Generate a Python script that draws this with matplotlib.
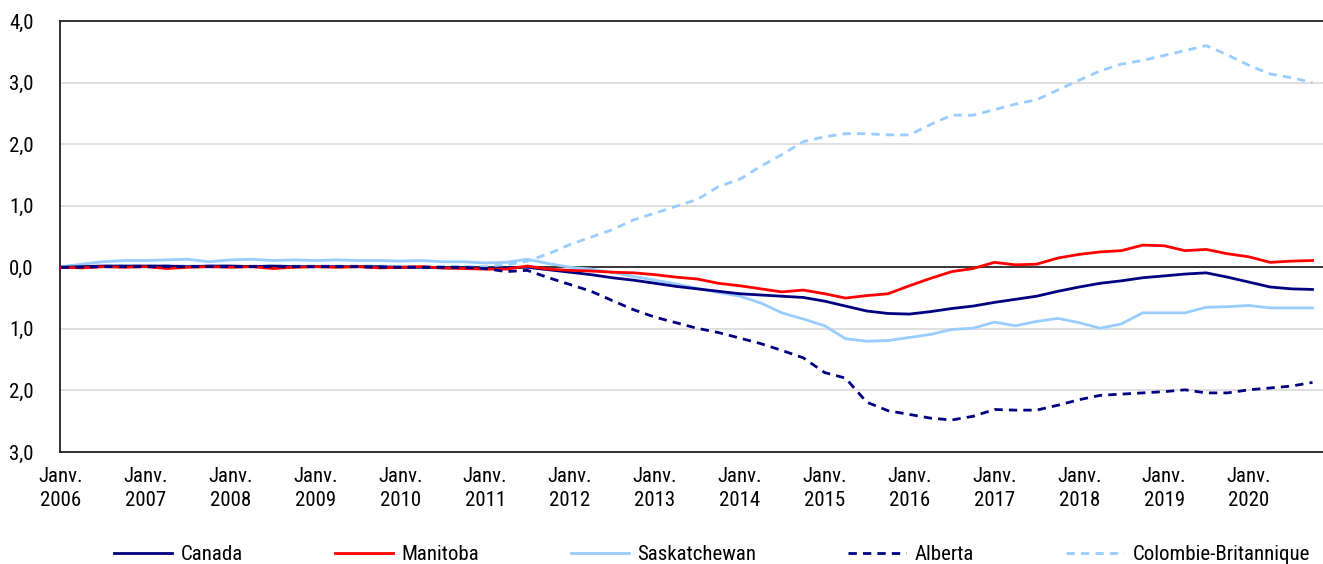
import numpy as np
import pandas as pd
import matplotlib
matplotlib.use("Agg")
import matplotlib.pyplot as plt
from matplotlib import font_manager as fm

# the reference uses a narrow sans; take one if the machine has it
names = {f.name for f in fm.fontManager.ttflist}
narrow = [n for n in ["Liberation Sans Narrow", "Roboto Condensed",
                      "Open Sans Condensed", "Arial Narrow"] if n in names]
if narrow:
    plt.rcParams['font.family'] = [narrow[0], 'DejaVu Sans']
    fsize = 15
else:
    plt.rcParams['font.family'] = ['Liberation Sans', 'DejaVu Sans']
    fsize = 13

# quarterly readings, Jan 2006 .. Oct 2020 (one row = one year)
dates = pd.date_range("2006-01-01", periods=60, freq="3MS")

canada = [
    0.00, 0.01, 0.02, 0.02,
    0.02, 0.02, 0.01, 0.02,
    0.02, 0.01, 0.02, 0.01,
    0.01, 0.01, 0.01, 0.01,
    0.00, 0.00, -0.01, -0.01,
    -0.02, -0.01, 0.00, -0.04,
    -0.08, -0.12, -0.17, -0.21,
    -0.26, -0.31, -0.35, -0.39,
    -0.43, -0.45, -0.47, -0.49,
    -0.55, -0.63, -0.71, -0.75,
    -0.76, -0.72, -0.67, -0.63,
    -0.57, -0.52, -0.47, -0.39,
    -0.32, -0.26, -0.22, -0.17,
    -0.14, -0.11, -0.09, -0.16,
    -0.24, -0.32, -0.35, -0.36,
]
manitoba = [
    0.00, -0.01, 0.01, 0.00,
    0.01, -0.02, 0.00, 0.01,
    0.00, 0.01, -0.02, 0.00,
    0.01, 0.00, 0.01, -0.01,
    0.00, 0.01, -0.01, -0.02,
    -0.03, -0.03, 0.02, -0.03,
    -0.05, -0.06, -0.08, -0.09,
    -0.12, -0.16, -0.19, -0.26,
    -0.30, -0.35, -0.40, -0.37,
    -0.43, -0.50, -0.46, -0.43,
    -0.30, -0.18, -0.07, -0.02,
    0.08, 0.04, 0.05, 0.15,
    0.21, 0.25, 0.27, 0.36,
    0.35, 0.27, 0.29, 0.22,
    0.17, 0.08, 0.10, 0.11,
]
saskatchewan = [
    0.01, 0.05, 0.09, 0.11,
    0.11, 0.12, 0.13, 0.09,
    0.12, 0.13, 0.11, 0.12,
    0.11, 0.12, 0.11, 0.11,
    0.10, 0.11, 0.09, 0.09,
    0.07, 0.08, 0.13, 0.06,
    0.00, -0.03, -0.08, -0.15,
    -0.21, -0.27, -0.34, -0.41,
    -0.47, -0.58, -0.74, -0.84,
    -0.95, -1.16, -1.20, -1.19,
    -1.14, -1.09, -1.01, -0.99,
    -0.89, -0.95, -0.88, -0.83,
    -0.90, -0.99, -0.92, -0.74,
    -0.74, -0.74, -0.65, -0.64,
    -0.62, -0.66, -0.66, -0.66,
]
alberta = [
    0.00, 0.00, 0.01, 0.01,
    0.01, 0.01, 0.01, 0.01,
    0.01, 0.01, 0.01, 0.01,
    0.01, 0.01, 0.01, 0.00,
    0.00, 0.00, 0.00, 0.00,
    -0.02, -0.07, -0.05, -0.17,
    -0.28, -0.39, -0.54, -0.69,
    -0.81, -0.90, -0.99, -1.06,
    -1.15, -1.24, -1.35, -1.47,
    -1.71, -1.80, -2.19, -2.33,
    -2.39, -2.45, -2.48, -2.42,
    -2.31, -2.32, -2.32, -2.24,
    -2.15, -2.08, -2.06, -2.04,
    -2.02, -1.99, -2.04, -2.04,
    -1.99, -1.96, -1.93, -1.87,
]
colombie_brit = [
    0.00, 0.01, 0.02, 0.02,
    0.02, 0.02, 0.02, 0.02,
    0.02, 0.02, 0.02, 0.02,
    0.02, 0.02, 0.02, 0.02,
    0.01, 0.01, 0.01, 0.01,
    0.01, 0.04, 0.10, 0.22,
    0.37, 0.49, 0.61, 0.77,
    0.88, 0.99, 1.10, 1.31,
    1.43, 1.64, 1.83, 2.04,
    2.12, 2.17, 2.17, 2.15,
    2.15, 2.32, 2.47, 2.47,
    2.56, 2.65, 2.72, 2.88,
    3.04, 3.19, 3.30, 3.36,
    3.44, 3.52, 3.60, 3.45,
    3.28, 3.14, 3.08, 3.00,
]

years = list(range(2006, 2021))
ytick_vals = [4, 3, 2, 1, 0, -1, -2, -3]
ytick_labels = ["4,0", "3,0", "2,0", "1,0", "0,0", "1,0", "2,0", "3,0"]

navy = "#000080"
red = "#FF0000"
light = "#99CCFF"

fig = plt.figure(figsize=(13.23, 5.64), dpi=100)
ax = fig.add_axes([60 / 1323, 1 - 452 / 564, 1 - 60 / 1323, (452 - 21) / 564])

for v in [1, 2, 3, -1, -2]:
    ax.axhline(v, color="#D9D9D9", lw=1.2, zorder=0)
ax.axhline(0, color="black", lw=1.1, zorder=1)

lw = 2.0
dash = (3, 2.2)
ax.plot(dates, canada, color=navy, lw=lw, label="Canada", zorder=3)
ax.plot(dates, manitoba, color=red, lw=lw, label="Manitoba", zorder=3)
ax.plot(dates, saskatchewan, color=light, lw=lw, label="Saskatchewan", zorder=2)
ax.plot(dates, alberta, color=navy, lw=lw, dashes=dash, label="Alberta", zorder=3)
ax.plot(dates, colombie_brit, color=light, lw=lw, dashes=dash,
        label="Colombie-Britannique", zorder=2)

ax.set_xlim(pd.Timestamp("2005-12-28"), pd.Timestamp("2020-11-15"))
ax.set_ylim(-3, 4)
ax.set_yticks(ytick_vals)
ax.set_yticklabels(ytick_labels)
ax.set_xticks([pd.Timestamp(f"{y}-01-01") for y in years])
ax.set_xticklabels([f"Janv.\n{y}" for y in years], linespacing=1.3)
ax.tick_params(axis="both", length=0, labelsize=fsize, colors="black")
ax.tick_params(axis="y", pad=19)
ax.tick_params(axis="x", pad=11)

for s in ["top", "bottom", "left"]:
    ax.spines[s].set_color("#222222")
    ax.spines[s].set_linewidth(1.3)
ax.spines["right"].set_visible(False)

fig.legend(loc="center", bbox_to_anchor=(712 / 1323, 1 - 555 / 564), ncol=5,
           frameon=False, fontsize=fsize, handlelength=2.8, handletextpad=0.4,
           columnspacing=4.4 if narrow else 3.2)

fig.savefig("out.png", dpi=100)
